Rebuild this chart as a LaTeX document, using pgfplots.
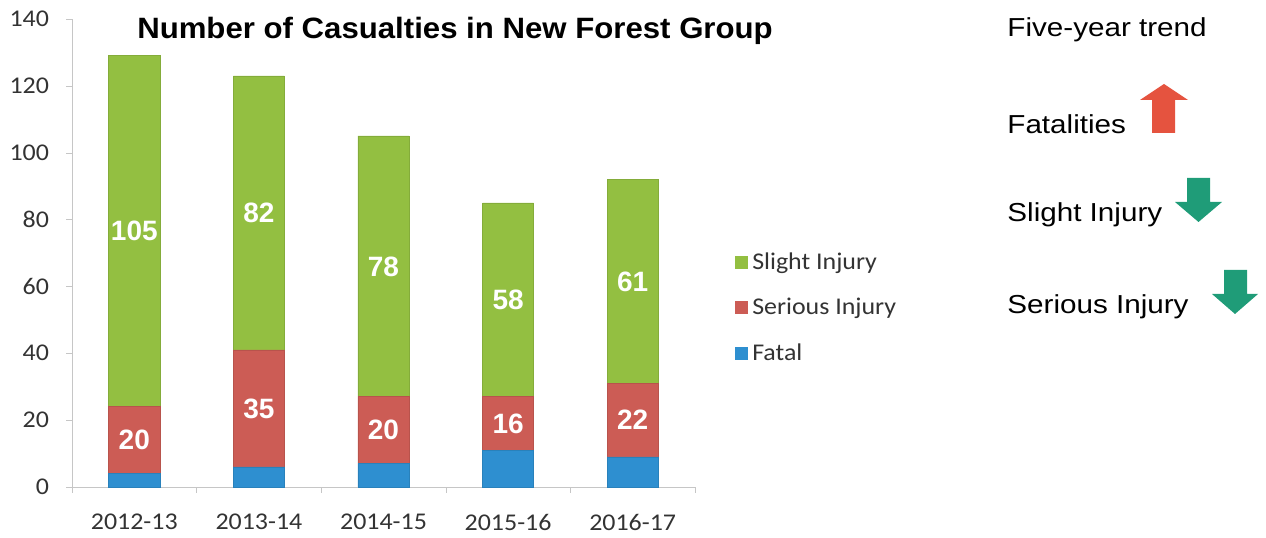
\documentclass[border=0pt]{standalone}
\usepackage{pgfplots}
\pgfplotsset{compat=1.18}
\usepackage{fontspec}
\setmainfont{Carlito}[FakeStretch=1.08]
\newfontfamily\arial{Liberation Sans}
\newfontfamily\arialwide{Liberation Sans}[FakeStretch=1.14]
\newfontfamily\arialtitle{Liberation Sans}[FakeStretch=1.06]
\definecolor{cgreen}{HTML}{93BF41}
\definecolor{cred}{HTML}{CC5C55}
\definecolor{cblue}{HTML}{2E8FD0}
\definecolor{aup}{HTML}{E5533F}
\definecolor{adown}{HTML}{1F9C78}
\definecolor{txt}{HTML}{333333}
\begin{document}
\begin{tikzpicture}
\path (0pt,0pt) rectangle (633pt,267.5pt);
\begin{axis}[
  at={(36pt,24pt)}, anchor=south west,
  scale only axis, width=311.5pt, height=234pt,
  ybar stacked, bar width=0.41,
  xmin=-0.5, xmax=4.5, ymin=0, ymax=140,
  axis x line*=bottom, axis y line*=left,
  axis line style={draw=gray!45},
  xtick={0,...,4},
  xticklabels={2012-13,2013-14,2014-15,2015-16,2016-17},
  minor xtick={-0.5,0.5,1.5,2.5,3.5,4.5},
  major x tick style={draw=none},
  minor x tick style={draw=gray!45},
  minor tick length=3pt,
  ytick={0,20,...,140},
  y tick style={draw=gray!45},
  major tick length=3pt,
  tick align=outside,
  /pgf/number format/assume math mode=true,
  tick label style={font=\fontsize{12}{14}\selectfont, text=txt},
  xticklabel style={yshift=-7pt},
  yticklabel style={xshift=-5pt},
  clip=false,
  legend style={at={(1.064,0.51)}, anchor=north west, draw=none, fill=none,
    font=\fontsize{12}{14}\selectfont, text=txt, row sep=9pt, inner sep=0pt},
  legend cell align=left,
  reverse legend,
  legend image code/.code={\fill[#1,draw=none] (0pt,-3pt) rectangle (6.5pt,3.5pt);},
  every node near coord/.style={anchor=center,
    font=\arial\bfseries\fontsize{14}{16}\selectfont, text=white},
]
\addplot[fill=cblue, draw=cblue!90!black, line width=0.3pt] coordinates {(0,4) (1,6) (2,7) (3,11) (4,9)};
\addlegendentry{Fatal}
\addplot[fill=cred, draw=cred!90!black, line width=0.3pt, nodes near coords]
  coordinates {(0,20) (1,35) (2,20) (3,16) (4,22)};
\addlegendentry{Serious Injury}
\addplot[fill=cgreen, draw=cgreen!90!black, line width=0.3pt, nodes near coords]
  coordinates {(0,105) (1,82) (2,78) (3,58) (4,61)};
\addlegendentry{Slight Injury}
\end{axis}
\begin{scope}[x=0.5pt,y=0.5pt]
\node[font=\arialtitle\bfseries\fontsize{14.7}{17}\selectfont] at (455,504) {Number of Casualties in New Forest Group};
\begin{scope}[every node/.style={anchor=west, inner sep=0pt, font=\arialwide\fontsize{13}{15}\selectfont}]
\node at (1007,505) {Five-year trend};
\node at (1007,411) {Fatalities};
\node at (1007,320) {Slight Injury};
\node at (1007,228) {Serious Injury};
\end{scope}
\fill[aup] (1164,451) -- (1188,435) -- (1175,435) -- (1175,402) -- (1152,402) -- (1152,435) -- (1140,435) -- cycle;
\fill[adown] (1198.5,313) -- (1222,333) -- (1210,333) -- (1210,357) -- (1187,357) -- (1187,333) -- (1175,333) -- cycle;
\fill[adown] (1235,221) -- (1258,241) -- (1247,241) -- (1247,265) -- (1224,265) -- (1224,241) -- (1212,241) -- cycle;
\end{scope}
\end{tikzpicture}
\end{document}
